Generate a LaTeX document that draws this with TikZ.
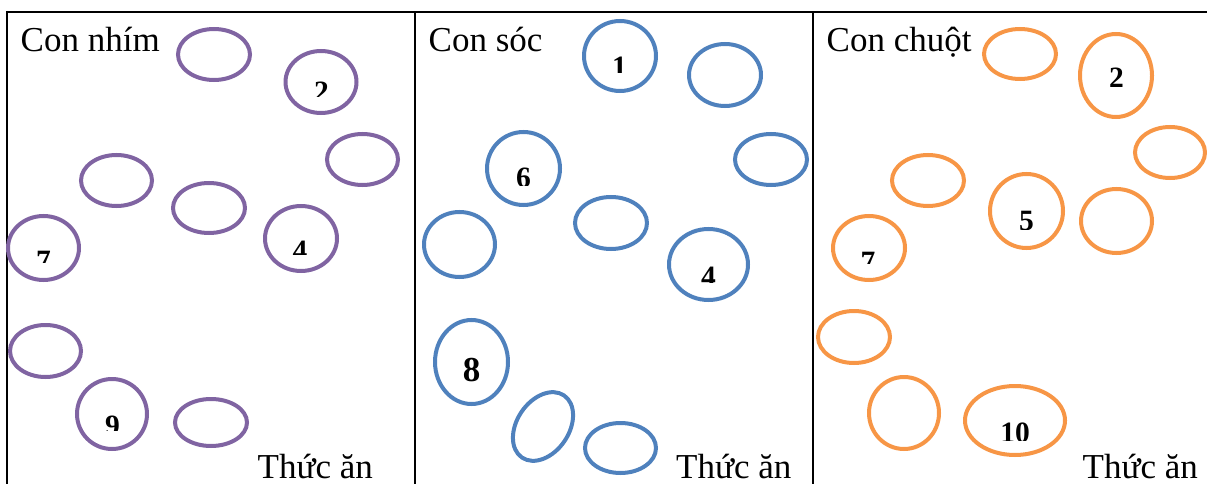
\documentclass[tikz,border=0pt]{standalone}
\usepackage{fontspec}
\setmainfont{Liberation Serif}
\usetikzlibrary{shapes.geometric}
\definecolor{purp}{HTML}{8064A2}
\definecolor{blu}{HTML}{4F81BD}
\definecolor{orng}{HTML}{F79646}
\tikzset{
  frame/.style={line width=2pt, black},
  ell/.style={ellipse, line width=4pt, inner sep=0pt},
  pe/.style={ell, draw=purp},
  be/.style={ell, draw=blu},
  oe/.style={ell, draw=orng},
  es/.style 2 args={minimum width=#1pt, minimum height=#2pt},
  title/.style={anchor=base west, inner sep=0pt, font=\fontsize{35}{42}\selectfont},
  dig/.style={anchor=base, inner sep=0pt, font=\fontsize{29.5}{35}\selectfont\bfseries},
  bigdig/.style={anchor=base, inner sep=0pt, font=\fontsize{35}{42}\selectfont\bfseries},
}
\begin{document}
\begin{tikzpicture}[x=1pt,y=-1pt]
\useasboundingbox (0,0) rectangle (1207,484);
\clip (0,0) rectangle (1207,484);
% frame
\draw[frame] (7,12) -- (1207,12);
\draw[frame] (7,11) -- (7,484);
\draw[frame] (415,12) -- (415,484);
\draw[frame] (813,12) -- (813,484);

% titles
\node[title] (t1) at (20.5,52) {Con nhím};
\node[title] (t2) at (428.5,52) {Con sóc};
\node[title] (t3) at (826.5,52) {Con chuột};
\node[title] (f1) at (257.5,478) {Thức ăn};
\node[title] (f2) at (676,478) {Thức ăn};
\node[title] (f3) at (1082.5,478) {Thức ăn};

% purple
\node[pe,es={72}{51}] (p1) at (214,54.5) {};
\node[pe,es={71}{62}] (p2) at (321,82) {};
\node[pe,es={71}{51}] (p3) at (362.5,159.5) {};
\node[pe,es={71}{51}] (p4) at (116.5,180.5) {};
\node[pe,es={72}{50}] (p5) at (209,208) {};
\node[pe,es={72}{65}] (p6) at (301,238.5) {};
\node[pe,es={71}{64}] (p7) at (43.5,248) {};
\node[pe,es={71}{52}] (p8) at (45.5,351) {};
\node[pe,es={70}{70}] (p9) at (112,414) {};
\node[pe,es={72}{47}] (p10) at (211,422.5) {};
\begin{scope}\clip (300,70) rectangle (345,97); \node[dig] (dp2) at (321.5,102) {2};\end{scope}
\begin{scope}\clip (20,240) rectangle (65,262); \node[dig] (dp7) at (43.5,270) {7};\end{scope}
\begin{scope}\clip (280,230) rectangle (325,254); \node[dig] (dp6) at (300,260) {4};\end{scope}
\begin{scope}\clip (90,405) rectangle (135,430); \node[dig] (dp9) at (112.5,435) {9};\end{scope}

% blue
\node[be,es={72}{70}] (b1) at (620,56) {};
\node[be,es={72}{62}] (b2) at (725,75) {};
\node[be,es={72}{51}] (b3) at (771,159.5) {};
\node[be,es={73}{73}] (b4) at (523.5,168.5) {};
\node[be,es={71}{65}] (b5) at (459.5,244.5) {};
\node[be,es={72}{52}] (b6) at (611,223) {};
\node[be,es={79}{71}] (b7) at (708.5,264.5) {};
\node[be,es={73}{84}] (b8) at (471.5,362) {};
\node[be,es={52}{75},rotate=-34] (b9) at (543,426.5) {};
\node[be,es={71}{50}] (b10) at (620.5,448) {};
\begin{scope}\clip (595,45) rectangle (645,73); \node[dig] (db1) at (619.5,77) {1};\end{scope}
\begin{scope}\clip (500,155) rectangle (545,185); \node[dig] (db4) at (523.5,187) {6};\end{scope}
\begin{scope}\clip (685,255) rectangle (730,282); \node[dig] (db7) at (708.5,286) {4};\end{scope}
\node[bigdig] (db8) at (471.5,381) {8};

% orange
\node[oe,es={72}{50}] (o1) at (1020,54) {};
\node[oe,es={72}{83}] (o2) at (1116,75.5) {};
\node[oe,es={70}{51}] (o3) at (1170,152.5) {};
\node[oe,es={72}{51}] (o4) at (928,180.5) {};
\node[oe,es={73}{74}] (o5) at (1026.5,211) {};
\node[oe,es={71}{64}] (o6) at (1116.5,221) {};
\node[oe,es={72}{64}] (o7) at (869,248) {};
\node[oe,es={72}{52}] (o8) at (854,337) {};
\node[oe,es={70}{72}] (o9) at (904,413) {};
\node[oe,es={100}{69}] (o10) at (1015,420.5) {};
\node[dig] (do2) at (1116.5,88) {2};
\begin{scope}\clip (1000,200) rectangle (1050,229); \node[dig] (do5) at (1026.5,230) {5};\end{scope}
\begin{scope}\clip (845,240) rectangle (890,263); \node[dig] (do7) at (868,271) {7};\end{scope}
\begin{scope}\clip (985,410) rectangle (1045,440); \node[dig] (do10) at (1015,442) {10};\end{scope}
\end{tikzpicture}
\end{document}
